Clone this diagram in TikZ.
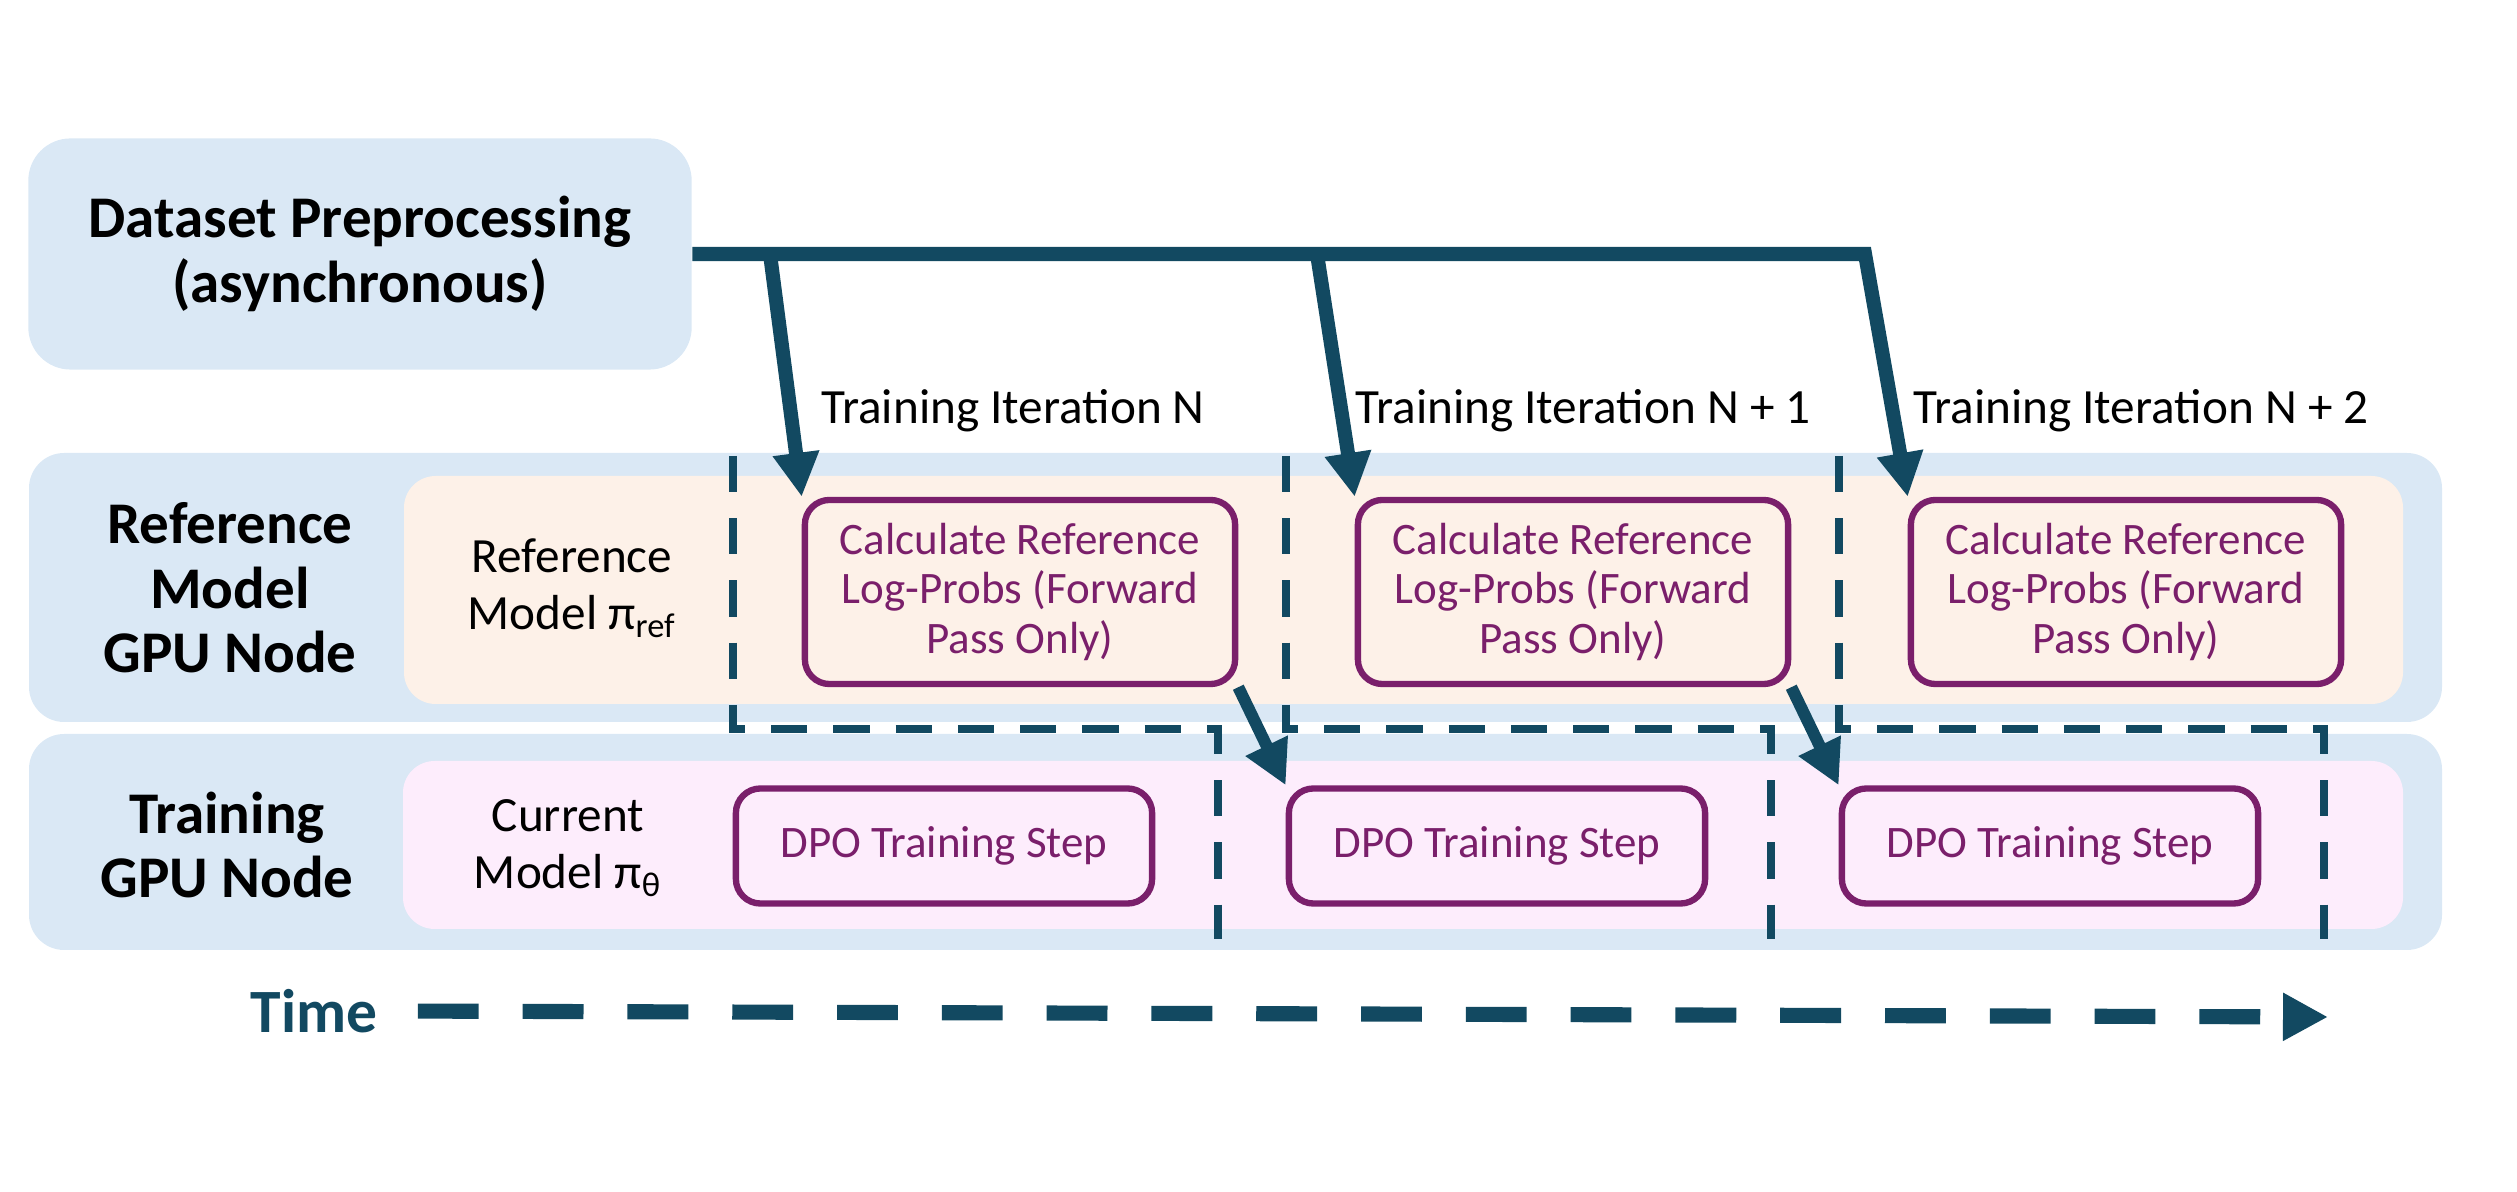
\documentclass[tikz,border=0pt]{standalone}
\usepackage{fontspec}
\setmainfont{Carlito}
\usetikzlibrary{arrows.meta}

\definecolor{bandblue}{HTML}{DAE8F5}
\definecolor{peach}{HTML}{FDF1E8}
\definecolor{blush}{HTML}{FDEDFC}
\definecolor{plum}{HTML}{7A1F6B}
\definecolor{deepteal}{HTML}{124961}

\begin{document}
\begin{tikzpicture}[x=0.01cm, y=-0.01cm,
	heading/.style={font=\fontsize{16.8pt}{18.3pt}\selectfont\bfseries, align=center},
	plain/.style={font=\fontsize{14pt}{16.3pt}\selectfont, align=center},
	stepbox/.style={draw=plum, line width=1.8pt, rounded corners=7pt, text=plum,
		align=center, font=\fontsize{12.8pt}{14.2pt}\selectfont},
	feed/.style={deepteal, line width=4pt, -{Triangle[length=12.5pt, width=12.5pt]}},
	handoff/.style={deepteal, line width=3.4pt, -{Triangle[length=12.5pt, width=12.5pt]}},
	boundary/.style={deepteal, line width=2.3pt, dash pattern=on 10.3pt off 7.4pt},
	timeline/.style={deepteal, line width=4.3pt, dash pattern=on 17.3pt off 12.5pt,
		-{Triangle[length=12.8pt, width=12.8pt]}}]

	\useasboundingbox (0,0) rectangle (2517,1192);

	% ---- parameters

	\def\pitch{553}

	% ---- lanes

	\fill[bandblue, rounded corners=10pt] (29,453) rectangle (2442,722);
	\fill[peach, rounded corners=9pt] (404,476) rectangle (2403,704);
	\fill[bandblue, rounded corners=10pt] (29,734) rectangle (2442,950);
	\fill[blush, rounded corners=9pt] (403,761) rectangle (2403,929);

	% ---- source

	\node[heading, fill=bandblue, rounded corners=12pt, minimum width=6.63cm,
		minimum height=2.31cm] (data) at (360,254) {Dataset Preprocessing\\(asynchronous)};

	% ---- lane labels

	\node[heading] (refgpu) at (230,588) {Reference\\Model\\GPU Node};
	\node[heading] (traingpu) at (227,845) {Training\\GPU Node};
	\node[plain] (refmodel) at (572,588) {Reference\\Model π\textsubscript{ref}};
	\node[plain] (curmodel) at (568,848) {Current\\Model π\textsubscript{θ}};

	% ---- iteration boundaries

	\foreach \i in {0,1,2} {
		\draw[boundary] ({733+\pitch*\i},456) -- ({733+\pitch*\i},729)
			-- ({1218+\pitch*\i},729) -- ({1218+\pitch*\i},939);
	}

	% ---- iteration labels

	\foreach \i/\tag/\lx in {1/N/1013, 2/N + 1/1583, 3/N + 2/2141} {
		\node[plain] (iter\i) at (\lx,411) {Training Iteration \tag};
	}

	% ---- steps

	\foreach \i in {1,2,3} {
		\node[stepbox, minimum width=4.3cm, minimum height=1.84cm] (refcalc\i)
			at ({1020+\pitch*(\i-1)},592) {Calculate Reference\\Log-Probs (Forward\\Pass Only)};
		\node[stepbox, minimum width=4.16cm, minimum height=1.15cm] (train\i)
			at ({944+\pitch*(\i-1)},846) {DPO Training Step};
	}

	% ---- data feed

	\coordinate (tap1) at (770,254);
	\coordinate (tap2) at (1317,254);
	\coordinate (tap3) at (1865,254);

	\draw[feed] (data.east) -- (tap3) -- (refcalc3.north west);
	\draw[feed] (tap1) -- (refcalc1.north west);
	\draw[feed] (tap2) -- (refcalc2.north west);

	% ---- hand-off

	\draw[handoff] (refcalc1.south east) -- (train2.north west);
	\draw[handoff] (refcalc2.south east) -- (train3.north west);

	% ---- time axis

	\node[text=deepteal, font=\fontsize{17.5pt}{19pt}\selectfont\bfseries] (timelbl)
		at (314,1011) {Time};
	\coordinate (timeend) at (2328,1017);
	\draw[timeline, shorten <=8pt] (timelbl.east) -- (timeend);

\end{tikzpicture}
\end{document}
